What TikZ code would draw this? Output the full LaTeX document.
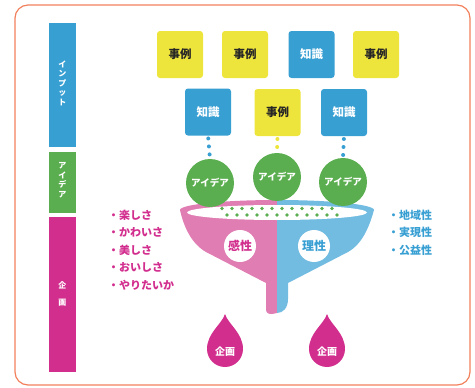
\documentclass[tikz,border=0pt]{standalone}
\usepackage{fontspec}
\newfontfamily\jp{Noto Sans CJK JP}
\definecolor{frameorange}{HTML}{F2805C}
\definecolor{inblue}{HTML}{389FD3}
\definecolor{inyellow}{HTML}{EEE53C}
\definecolor{idgreen}{HTML}{5BAE50}
\definecolor{plmagenta}{HTML}{D22E8E}
\definecolor{fpink}{HTML}{E07DB3}
\definecolor{fblue}{HTML}{72BCE2}

\begin{document}
\begin{tikzpicture}[x=1pt, y=-1pt, font=\jp\bfseries]
    \useasboundingbox (0,0) rectangle (475,388);
    \draw[frameorange, line width=1.2pt, rounded corners=13pt] (15,5) rectangle (470,385);

    \tikzset{BarStyle/.style={inner sep=0pt, outer sep=0pt, text=white, font=\jp\bfseries\fontsize{8}{9.5}\selectfont, align=center}}
    \fill[inblue]     (49,23)  rectangle (76,147);
    \fill[idgreen]    (49,152) rectangle (76,213);
    \fill[plmagenta]  (49,217) rectangle (76,372);
    \node[BarStyle] (LI) at (62.5,83)  {イ\\ン\\プ\\ッ\\ト};
    \node[BarStyle] (LA) at (62.5,180) {ア\\イ\\デ\\ア};
    \node[BarStyle, font=\jp\bfseries\fontsize{8}{17}\selectfont] (LK) at (62.5,294) {企\\画};

    % input boxes
    \tikzset{BoxStyle/.style={minimum width=46pt, minimum height=47pt, inner sep=0pt, outer sep=0pt,
        rounded corners=3pt, font=\jp\bfseries\fontsize{11.5}{13}\selectfont}}
    \tikzset{CaseStyle/.style={BoxStyle, fill=inyellow, text=black!85}}
    \tikzset{KnowStyle/.style={BoxStyle, fill=inblue, text=white}}
    \node[CaseStyle] (T1) at (180,54.5) {事例};
    \node[CaseStyle] (T2) at (245,54.5) {事例};
    \node[KnowStyle] (T3) at (311.5,54.5) {知識};
    \node[CaseStyle] (T4) at (376,54.5) {事例};
    \node[KnowStyle] (M1) at (208,112) {知識};
    \node[CaseStyle] (M2) at (277.5,112.5) {事例};
    \node[KnowStyle] (M3) at (344,112.5) {知識};

    % funnel
    \fill[fpink] (277,200) arc (270:180:97 and 10)
        .. controls (184,228) and (192,244) .. (206,252) -- (266,283) -- (266,309)
        .. controls (266,313) and (268,314) .. (272,314) -- (277,313) -- cycle;
    \fill[fblue] (277,200) arc (270:360:97 and 10)
        .. controls (369,228) and (362,244) .. (348,252) -- (288,283) -- (288,299)
        .. controls (288,308) and (283,313) .. (277,313) -- cycle;
    \fill[white] (277,212.5) ellipse (90 and 7.5);
    \foreach \i in {0,...,11}
        \fill[idgreen] (222+10*\i,208.5) circle (1.9);
    \foreach \i in {0,...,11}
        \fill[idgreen] (227+10*\i,215) circle (1.9);

    % ideas
    \tikzset{IdeaStyle/.style={circle, fill=idgreen, text=white, minimum size=48pt, inner sep=0pt, outer sep=0pt,
        font=\jp\bfseries\fontsize{9.5}{11}\selectfont}}
    \node[IdeaStyle] (A1) at (210,183) {アイデア};
    \node[IdeaStyle] (A2) at (277,177) {アイデア};
    \node[IdeaStyle] (A3) at (343,182) {アイデア};

    \tikzset{DotStyle/.style={line width=4pt, line cap=round, dash pattern=on 0pt off 8pt, shorten <=3pt, shorten >=2pt}}
    \draw[DotStyle, inblue]   (M1.south) -- (A1.north);
    \draw[DotStyle, inyellow] (M2.south) -- (A2.north);
    \draw[DotStyle, inblue]   (M3.south) -- (A3.north);

    \tikzset{SenseStyle/.style={circle, fill=white, minimum size=32pt, inner sep=0pt, font=\jp\bfseries\fontsize{12}{14}\selectfont}}
    \node[SenseStyle, text=plmagenta] (KS) at (240,246) {感性};
    \node[SenseStyle, text=inblue]    (RS) at (314,246) {理性};

    % lists
    \tikzset{ListStyle/.style={anchor=west, inner sep=0pt, font=\jp\bfseries\fontsize{11}{13}\selectfont}}
    \foreach \t [count=\n] in {楽しさ,かわいさ,美しさ,おいしさ,やりたいか}
        \node[ListStyle, text=plmagenta] (P\n) at (108,197.5+17.5*\n) {・\t};
    \foreach \t [count=\n] in {地域性,実現性,公益性}
        \node[ListStyle, text=inblue] (Q\n) at (388,197.5+17.5*\n) {・\t};

    % results
    \foreach \cx/\nm in {225/D1,327/D2} {
        \fill[plmagenta] (\cx,314) .. controls (\cx+3,324) and (\cx+18,333) .. (\cx+18,349)
            arc (0:180:18) .. controls (\cx-18,333) and (\cx-3,324) .. (\cx,314) -- cycle;
        \node[text=white, font=\jp\bfseries\fontsize{10}{12}\selectfont] (\nm) at (\cx,352) {企画};
    }
\end{tikzpicture}
\end{document}
